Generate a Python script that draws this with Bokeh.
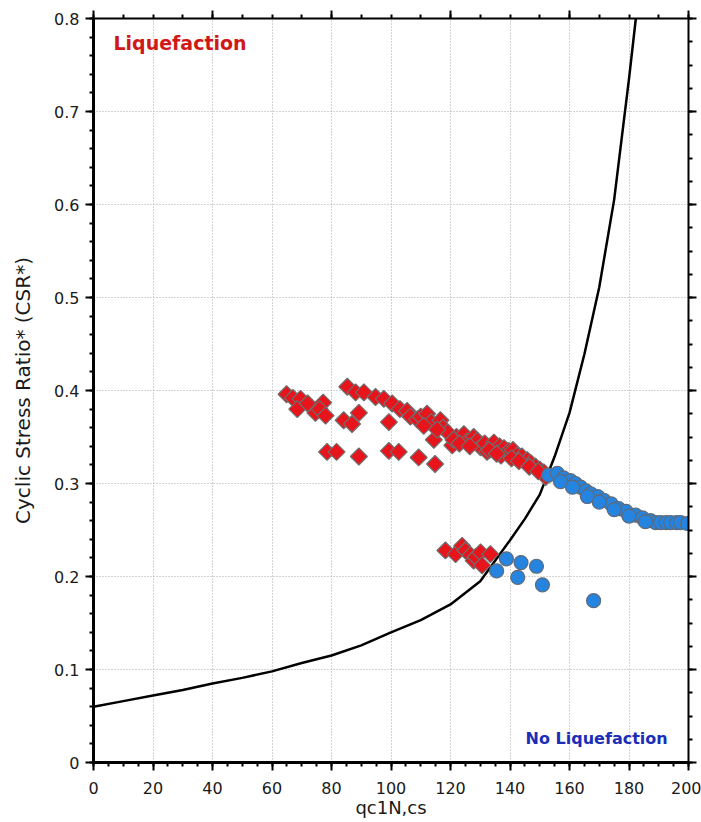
import numpy as np
from bokeh.plotting import figure
from bokeh.models import (LinearAxis, SingleIntervalTicker, CustomJSTickFormatter,
                          CustomLabelingPolicy, Range1d, Label)
from bokeh.embed import file_html
from bokeh.resources import INLINE

# Liquefaction triggering boundary (CRR curve), qc1N,cs vs CSR*
curve_q = [0, 10, 20, 30, 40, 50, 60, 70, 80, 90, 100, 110, 120, 130, 140, 145,
           150, 155, 160, 165, 170, 175, 180, 182.3]
curve_csr = [0.060, 0.066, 0.072, 0.078, 0.085, 0.091, 0.098, 0.107, 0.115, 0.126,
             0.140, 0.153, 0.170, 0.195, 0.239, 0.262, 0.288, 0.329, 0.376, 0.439,
             0.511, 0.605, 0.735, 0.800]

# Layers classified as liquefiable
liq_q = [64.9, 67.0, 69.6, 68.5, 72.0, 74.6, 77.2, 76.0, 78.0, 78.5, 81.7,
         85.3, 88.1, 90.9, 84.1, 86.9, 89.2, 89.2,
         94.8, 97.6, 100.4, 99.3, 99.3, 102.6,
         103.0, 105.4, 106.5, 108.8, 110.0, 112.1, 113.5, 116.6, 114.4, 109.3, 114.8,
         117.5, 119.0, 120.6, 122.0, 124.5, 125.5, 127.8, 129.0, 130.1, 131.5, 132.3,
         134.0, 134.6, 136.5, 137.0, 138.0, 139.6, 141.0, 142.4, 144.0, 145.8, 147.0,
         148.6, 150.0, 151.4, 152.0,
         111.0, 115.5, 121.0, 123.0, 126.5, 133.0, 135.5, 140.5, 143.0, 146.5, 149.5,
         118.3, 121.7, 123.9, 125.0, 126.7, 127.8, 128.5, 130.1, 130.6, 133.4]
liq_csr = [0.396, 0.392, 0.391, 0.380, 0.386, 0.376, 0.387, 0.380, 0.373, 0.334, 0.334,
           0.404, 0.398, 0.398, 0.368, 0.364, 0.376, 0.329,
           0.393, 0.391, 0.386, 0.366, 0.335, 0.334,
           0.380, 0.378, 0.372, 0.369, 0.372, 0.375, 0.366, 0.368, 0.347, 0.328, 0.321,
           0.360, 0.355, 0.341, 0.350, 0.353, 0.345, 0.350, 0.346, 0.339, 0.343, 0.334,
           0.339, 0.344, 0.340, 0.330, 0.338, 0.335, 0.336, 0.330, 0.329, 0.325, 0.322,
           0.318, 0.315, 0.312, 0.307,
           0.362, 0.358, 0.347, 0.343, 0.340, 0.336, 0.332, 0.327, 0.324, 0.318, 0.313,
           0.228, 0.224, 0.233, 0.228, 0.223, 0.217, 0.221, 0.226, 0.212, 0.224]

# Layers classified as non-liquefiable
noliq_q = [153.0, 155.9, 158.0, 160.3, 162.0, 163.7, 165.5, 167.1, 169.5, 171.5,
           174.0, 176.5, 179.0, 182.2, 184.5, 187.2, 189.0, 190.6, 192.5, 194.0,
           196.0, 197.3, 199.6,
           157.0, 161.0, 166.0, 170.0, 175.0, 180.0, 185.5,
           135.5, 138.8, 142.6, 143.7, 148.9, 150.9, 168.1]
noliq_csr = [0.309, 0.311, 0.306, 0.303, 0.300, 0.296, 0.292, 0.289, 0.286, 0.282,
             0.278, 0.273, 0.270, 0.266, 0.263, 0.260, 0.258, 0.258, 0.258, 0.258,
             0.258, 0.258, 0.257,
             0.302, 0.296, 0.286, 0.280, 0.272, 0.265, 0.259,
             0.206, 0.219, 0.199, 0.215, 0.211, 0.191, 0.174]

FONT = "DejaVu Sans"

p = figure(width=701, height=822, x_range=Range1d(0, 200), y_range=Range1d(0, 0.8),
           output_backend="svg", toolbar_location=None,
           min_border_left=93, min_border_right=13, min_border_top=18,
           min_border_bottom=60)
p.outline_line_color = None
p.background_fill_color = "white"
p.border_fill_color = "white"

xt = SingleIntervalTicker(interval=20, num_minor_ticks=4)
yt = SingleIntervalTicker(interval=0.1, num_minor_ticks=5)

for ax, tk in ((p.xaxis[0], xt), (p.yaxis[0], yt)):
    ax.ticker = tk
    ax.axis_line_width = 3
    ax.axis_line_color = "black"
    ax.major_tick_line_width = 2
    ax.minor_tick_line_width = 2
    ax.major_tick_line_color = "black"
    ax.minor_tick_line_color = "black"
    ax.major_tick_out = 8
    ax.major_tick_in = 0
    ax.minor_tick_out = 4
    ax.minor_tick_in = 0
    ax.major_label_text_font = FONT
    ax.major_label_text_font_size = "16px"
    ax.major_label_text_color = "#1a1a1a"
    ax.axis_label_text_font = FONT
    ax.axis_label_text_font_style = "normal"
    ax.axis_label_text_color = "#1a1a1a"

p.xaxis.axis_label = "qc1N,cs"
p.yaxis.axis_label = "Cyclic Stress Ratio* (CSR*)"
p.xaxis.axis_label_text_font_size = "18px"
p.yaxis.axis_label_text_font_size = "20px"
p.xaxis.major_label_standoff = 11
p.yaxis.major_label_standoff = 6
p.xaxis.axis_label_standoff = 0
p.yaxis.axis_label_standoff = 16
p.yaxis.formatter = CustomJSTickFormatter(
    code="return Math.abs(tick) < 1e-9 ? '0' : tick.toFixed(1);")

p.xgrid.ticker = xt
p.ygrid.ticker = yt
for g in (p.xgrid[0], p.ygrid[0]):
    g.grid_line_color = "#a8a8a8"
    g.grid_line_dash = "1 2"
    g.grid_line_width = 1

# Frame axes on the top and right carry ticks but no labels
def tick_only_axis(ticker):
    return LinearAxis(ticker=ticker,
                      major_label_policy=CustomLabelingPolicy(code="return [];"),
                      major_label_text_font_size="1px", major_label_standoff=0,
                      axis_line_width=2, major_tick_out=8, major_tick_in=0,
                      minor_tick_out=4, minor_tick_in=0,
                      major_tick_line_width=2, minor_tick_line_width=2)

p.add_layout(tick_only_axis(SingleIntervalTicker(interval=40, num_minor_ticks=4)), "above")
p.add_layout(tick_only_axis(SingleIntervalTicker(interval=0.1, num_minor_ticks=4)), "right")

p.line(curve_q, curve_csr, line_color="black", line_width=2.5)

p.scatter(liq_q, liq_csr, marker="square", angle=np.pi / 4, size=12,
          fill_color="#e8141c", line_color="#6e6e6e", line_width=1.2)
p.scatter(noliq_q, noliq_csr, marker="circle", size=14,
          fill_color="#2484e0", line_color="#5e6a7a", line_width=1.2)

p.add_layout(Label(x=6.7, y=0.774, text="Liquefaction", text_font=FONT,
                   text_font_size="19px", text_font_style="bold",
                   text_color="#d01818", text_baseline="middle"))
p.add_layout(Label(x=193, y=0.026, text="No Liquefaction", text_font=FONT,
                   text_font_size="16px", text_font_style="bold",
                   text_color="#1a2eb8", text_baseline="middle",
                   text_align="right"))

open("out.html", "w").write(file_html(p, INLINE))
